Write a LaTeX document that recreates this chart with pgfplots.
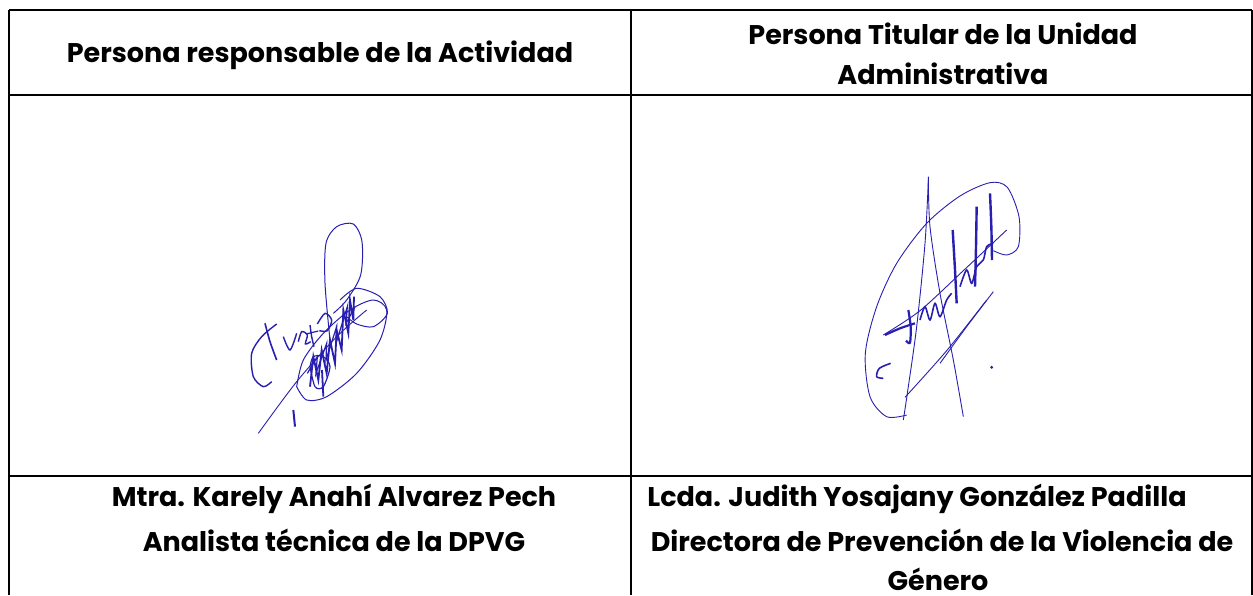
\documentclass[border=0pt]{standalone}
\usepackage{pgfplots}
\pgfplotsset{compat=1.18}
\usepackage{fontspec}
\setmainfont{Poppins}
\definecolor{ink}{RGB}{40,30,175}
\tikzset{hd/.style={font=\fontsize{13.5}{16}\selectfont\bfseries}}
\begin{document}
\begin{tikzpicture}
\begin{axis}[
  width=626.5pt, height=297.5pt, scale only axis,
  xmin=0, xmax=1253, ymin=0, ymax=595, y dir=reverse,
  hide axis, clip=false,
  sigA/.style={no marks, smooth, ink, x filter/.expression={230+x/3}, y filter/.expression={200+y/3}},
  sigB/.style={no marks, smooth, ink, x filter/.expression={820+x/3}, y filter/.expression={160+y/3}},
]
% table lines
\draw[line width=1pt] (axis cs:9,10) -- (axis cs:1252,10);
\draw[line width=1pt] (axis cs:9,95) -- (axis cs:1252,95);
\draw[line width=1pt] (axis cs:9,476) -- (axis cs:1252,476);
\draw[line width=1pt] (axis cs:9,10) -- (axis cs:9,595);
\draw[line width=1pt] (axis cs:631,10) -- (axis cs:631,595);
\draw[line width=1pt] (axis cs:1252,10) -- (axis cs:1252,595);
% text
\node[hd] at (axis cs:320,55) {Persona responsable de la Actividad};
\node[hd] at (axis cs:943,34) {Persona Titular de la Unidad};
\node[hd] at (axis cs:943,74) {Administrativa};
\node[hd] at (axis cs:334,499) {Mtra. Karely Anahí Alvarez Pech};
\node[hd] at (axis cs:334,540) {Analista técnica de la DPVG};
\node[hd] at (axis cs:917,499) {Lcda. Judith Yosajany González Padilla};
\node[hd] at (axis cs:942,540) {Directora de Prevención de la Violencia de};
\node[hd] at (axis cs:938,579) {Género};
% signature 1
\addplot[sigA, line width=0.45pt] coordinates {(85,700) (200,545) (320,410) (410,330)};
\addplot[sigA, line width=0.5pt] coordinates {(200,560) (230,600) (290,590) (380,520) (450,420) (470,330) (430,300) (360,330) (280,400) (220,480) (200,560)};
\addplot[sigA, line width=0.5pt] coordinates {(300,420) (285,250) (288,130) (320,80) (370,72) (396,125) (392,225) (350,300) (310,340)};
\addplot[sigA, line width=0.5pt] coordinates {(330,300) (380,265) (450,290) (472,340) (430,380) (380,372) (350,350)};
\addplot[sigA, line width=0.7pt] coordinates {(140,372) (95,410) (65,460) (70,530) (100,560) (125,545)};
\addplot[sigA, line width=0.8pt] coordinates {(105,370) (120,425) (140,480)};
\addplot[sigA, line width=0.7pt] coordinates {(160,410) (180,450) (200,400)};
\addplot[sigA, line width=0.7pt] coordinates {(205,425) (215,395) (232,405) (226,432) (242,425)};
\addplot[sigA, line width=0.7pt] coordinates {(240,375) (245,410) (252,440)};
\addplot[sigA, line width=0.6pt] coordinates {(228,402) (265,393)};
\addplot[sigA, line width=0.7pt] coordinates {(262,372) (285,340) (305,360) (292,392) (268,392)};
\addplot[ink, no marks, line width=0.9pt, x filter/.expression={230+x/3}, y filter/.expression={200+y/3}] coordinates {(240,560) (250,470) (265,540) (275,450) (290,520) (300,420) (315,490) (320,390) (335,450) (340,330) (355,400) (360,300) (370,360) (372,290)};
\addplot[ink, no marks, line width=0.6pt, x filter/.expression={230+x/3}, y filter/.expression={200+y/3}] coordinates {(232,520) (262,470) (258,520) (290,430) (288,480) (320,380) (318,430) (352,320) (348,370) (375,320)};
\addplot[sigA, line width=0.6pt] coordinates {(240,500) (255,560) (280,560) (300,500) (280,470) (250,470) (240,500)};
\addplot[sigA, line width=0.9pt] coordinates {(276,510) (280,590)};
\addplot[sigA, line width=1pt] coordinates {(190,630) (195,680)};
% signature 2
\addplot[sigB, line width=0.45pt] coordinates {(520,272) (560,285) (595,260) (597,170) (562,82) (510,68) (420,108) (320,190) (230,310) (170,440) (136,580) (150,710) (200,770) (260,765)};
\addplot[sigB, line width=0.45pt] coordinates {(325,50) (330,200) (360,400) (400,600) (430,770)};
\addplot[sigB, line width=0.45pt] coordinates {(325,60) (315,250) (290,500) (262,700) (250,780)};
\addplot[sigB, line width=0.45pt] coordinates {(190,525) (300,452) (430,332) (560,210)};
\addplot[sigB, line width=0.45pt] coordinates {(360,610) (440,500) (520,395)};
\addplot[sigB, line width=0.45pt] coordinates {(255,712) (380,572) (500,420)};
\addplot[sigB, line width=1.1pt] coordinates {(265,450) (272,500) (270,548) (258,542)};
\addplot[sigB, line width=1.1pt] coordinates {(195,525) (240,505) (285,490)};
\addplot[sigB, line width=1.2pt] coordinates {(398,210) (405,330) (410,430)};
\addplot[sigB, line width=1.2pt] coordinates {(470,140) (468,260) (465,380)};
\addplot[sigB, line width=1.2pt] coordinates {(510,100) (514,200) (516,300)};
\addplot[sigB, line width=0.8pt] coordinates {(300,480) (315,440) (330,480) (345,430) (360,470) (380,420) (395,400)};
\addplot[sigB, line width=0.8pt] coordinates {(420,380) (440,330) (455,370) (470,320) (490,300) (500,260) (520,250)};
\addplot[sigB, line width=0.8pt] coordinates {(212,610) (178,625) (170,650) (190,655)};
\addplot[ink, only marks, mark=*, mark size=0.5pt] coordinates {(991.7,367.3)};
\end{axis}
\pgfresetboundingbox
\path (0,0) rectangle (626.5pt,297.5pt);
\end{tikzpicture}
\end{document}
